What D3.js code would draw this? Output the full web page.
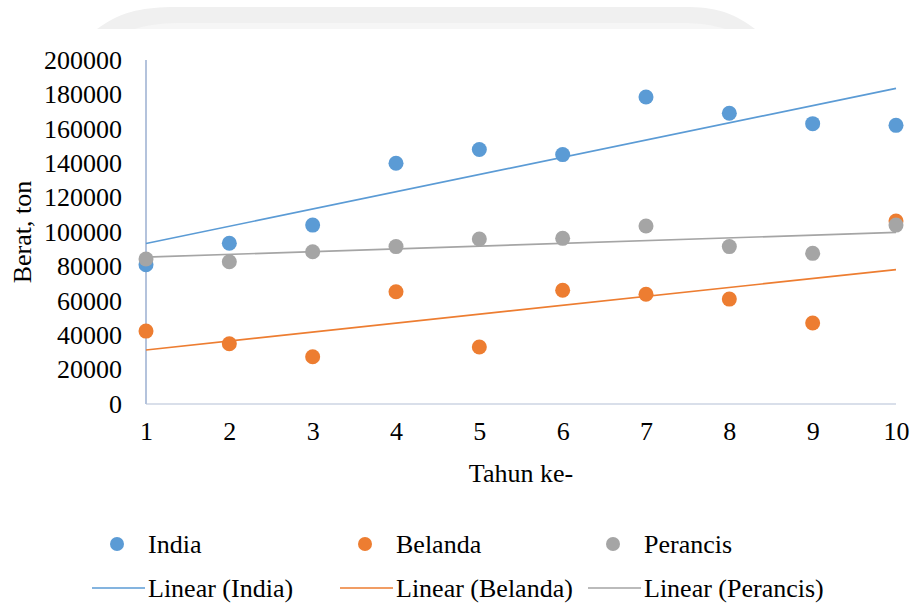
<!DOCTYPE html>
<html>
<head>
<meta charset="utf-8">
<script src="https://cdn.jsdelivr.net/npm/d3@7"></script>
<style>
  html, body { margin: 0; padding: 0; background: #fff; }
  svg { display: block; font-family: "Liberation Serif", "Times New Roman", serif; }
</style>
</head>
<body>
<svg id="chart" width="913" height="603"></svg>
<script>
const years = [1, 2, 3, 4, 5, 6, 7, 8, 9, 10];
const india = [81000, 93500, 104000, 140000, 148000, 145000, 178500, 169000, 163000, 162000];
const belanda = [42400, 35000, 27500, 65300, 33100, 66100, 63800, 61000, 47100, 106400];
const perancis = [84300, 82700, 88500, 91500, 95900, 96300, 103500, 91500, 87600, 104000];
const seriesNames = ["India", "Belanda", "Perancis"];
const seriesColors = ["#5B9BD5", "#ED7D31", "#A5A5A5"];
const yTicks = [0, 20000, 40000, 60000, 80000, 100000, 120000, 140000, 160000, 180000, 200000];
const xTicks = [1, 2, 3, 4, 5, 6, 7, 8, 9, 10];
const xTitle = "Tahun ke-";
const yTitle = "Berat, ton";

const seriesData = [india, belanda, perancis];
const svg = d3.select("#chart");

// faint scan shadow at the top
svg.append("path")
  .attr("d", "M97,29 C120,12 140,8 170,7 L690,7 C720,8 735,14 755,29 Z")
  .attr("fill", "#f0f0f0");
svg.append("path")
  .attr("d", "M135,29 C150,24 165,23 185,23 L680,23 C700,23 712,25 725,29 Z")
  .attr("fill", "#f6f6f6");

const x = d3.scaleLinear().domain([1, 10]).range([146, 896]);
const y = d3.scaleLinear().domain([0, 200000]).range([404, 60]);

// axes lines
svg.append("line").attr("x1", x(1)).attr("x2", x(10)).attr("y1", y(0)).attr("y2", y(0))
  .attr("stroke", "#d9dfea").attr("stroke-width", 2);
svg.append("line").attr("x1", x(1)).attr("x2", x(1)).attr("y1", y(0)).attr("y2", y(200000))
  .attr("stroke", "#b4c3dc").attr("stroke-width", 2);

// y tick labels
const yAxis = d3.axisLeft(y).tickValues(yTicks).tickSize(0).tickPadding(24).tickFormat(d3.format("d"));
const gy = svg.append("g").attr("transform", `translate(${x(1)},0)`).call(yAxis);
gy.select(".domain").remove();
gy.selectAll("text").attr("font-size", 26).attr("fill", "#000")
  .attr("font-family", "Liberation Serif, Times New Roman, serif");

// x tick labels
const xAxis = d3.axisBottom(x).tickValues(xTicks).tickSize(0).tickPadding(18).tickFormat(d3.format("d"));
const gx = svg.append("g").attr("transform", `translate(0,${y(0)})`).call(xAxis);
gx.select(".domain").remove();
gx.selectAll("text").attr("font-size", 26).attr("fill", "#000")
  .attr("font-family", "Liberation Serif, Times New Roman, serif");

// axis titles
svg.append("text").attr("x", (x(1) + x(10)) / 2).attr("y", 482)
  .attr("text-anchor", "middle").attr("font-size", 26).text(xTitle);
svg.append("text").attr("transform", `translate(31,${(y(0) + y(200000)) / 2}) rotate(-90)`)
  .attr("text-anchor", "middle").attr("font-size", 26).text(yTitle);

// least-squares trendlines
function fit(ys) {
  const mx = d3.mean(years), my = d3.mean(ys);
  let sxy = 0, sxx = 0;
  years.forEach((xv, i) => { sxy += (xv - mx) * (ys[i] - my); sxx += (xv - mx) ** 2; });
  const b = sxy / sxx, a = my - b * mx;
  return v => a + b * v;
}
seriesData.forEach((ys, si) => {
  const f = fit(ys);
  const ends = [years[0], years[years.length - 1]];
  svg.append("path")
    .attr("d", d3.line().x(d => x(d)).y(d => y(f(d)))(ends))
    .attr("stroke", seriesColors[si]).attr("stroke-width", 1.7).attr("fill", "none");
});

// points
seriesData.forEach((ys, si) => {
  svg.append("g").selectAll("circle").data(ys).join("circle")
    .attr("cx", (d, i) => x(years[i])).attr("cy", d => y(d)).attr("r", 7.5)
    .attr("fill", seriesColors[si]);
});

// legend
const legX = [117, 365, 613];
seriesNames.forEach((name, i) => {
  svg.append("circle").attr("cx", legX[i]).attr("cy", 544).attr("r", 7).attr("fill", seriesColors[i]);
  svg.append("text").attr("x", legX[i] + 31).attr("y", 553).attr("font-size", 26).text(name);
  svg.append("line").attr("x1", legX[i] - 25).attr("x2", legX[i] + 28).attr("y1", 588).attr("y2", 588)
    .attr("stroke", seriesColors[i]).attr("stroke-width", 1.7);
  svg.append("text").attr("x", legX[i] + 31).attr("y", 597).attr("font-size", 26).text(`Linear (${name})`);
});
</script>
</body>
</html>
